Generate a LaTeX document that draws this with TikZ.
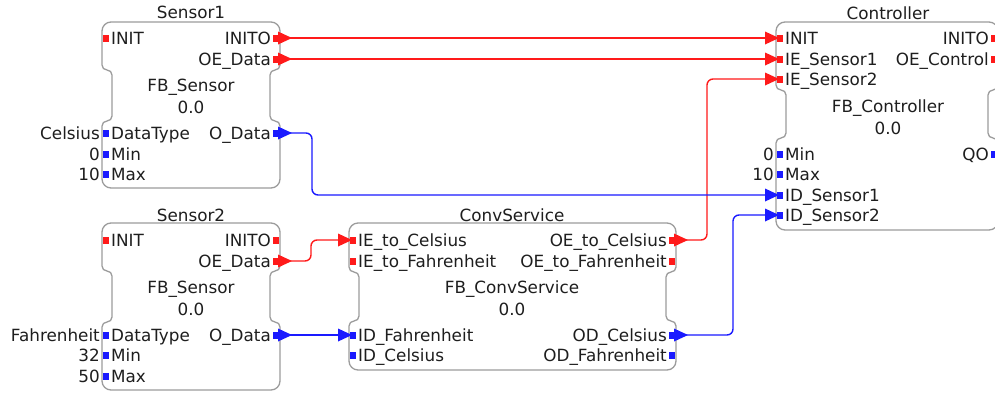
\documentclass[tikz,border=0pt]{standalone}
\usepackage{fontspec}
\setmainfont{DejaVu Sans}
\definecolor{evred}{HTML}{FF1A1A}
\definecolor{dblue}{HTML}{1A1AFF}
\definecolor{txt}{HTML}{1E1E1E}
\definecolor{frm}{HTML}{9C9C9C}
% L R T E D B
\newcommand\fbFrame[6]{%
  \draw[frame] ({(#1+#2)/2},#3) [rounded corners=9] -- (#2,#3) -- (#2,{(#3+#4)/2})
    [rounded corners=5] -- (#2,#4) -- ({#2-10},#4) -- ({#2-10},#5) -- (#2,#5) -- (#2,{(#5+#6)/2})
    [rounded corners=9] -- (#2,#6) -- (#1,#6) -- (#1,{(#5+#6)/2})
    [rounded corners=5] -- (#1,#5) -- ({#1+10},#5) -- ({#1+10},#4) -- (#1,#4) -- (#1,{(#3+#4)/2})
    [rounded corners=9] -- (#1,#3) -- cycle;}
% id x y colour text
\newcommand\fbIn[5]{%
  \coordinate (#1) at (#2,#3);
  \fill[#4] ({#2+1},{#3-3.5}) rectangle ({#2+7},{#3+3.5});
  \node[lbl,anchor=base west] (#1-t) at ({#2+9},{#3+6}) {#5};}
\newcommand\fbOut[5]{%
  \coordinate (#1) at (#2,#3);
  \fill[#4] ({#2-7},{#3-3.5}) rectangle ({#2-1},{#3+3.5});
  \node[lbl,anchor=base east] (#1-t) at ({#2-9},{#3+6}) {#5};}
% id x y text
\newcommand\fbConst[4]{%
  \node[lbl,anchor=base east] (#1) at ({#2-2},{#3+6}) {#4};}
% id x y text
\newcommand\fbText[4]{%
  \node[lbl,anchor=base] (#1) at (#2,{#3+6}) {#4};}
\newcommand\srcTip[2]{\fill[#2] ([shift={(-2,-6.5)}]#1) -- ([shift={(12,0)}]#1) -- ([shift={(-2,6.5)}]#1) -- cycle;}
\newcommand\dstTip[2]{\fill[#2] ([shift={(-11,-6.5)}]#1) -- ([shift={(3,0)}]#1) -- ([shift={(-11,6.5)}]#1) -- cycle;}
\begin{document}
\begin{tikzpicture}[x=1pt,y=-1pt,
  lbl/.style={inner sep=0pt, text=txt, font=\fontsize{16.8}{19}\selectfont},
  frame/.style={draw=frm, line width=1.3pt, fill=white},
  evline/.style={draw=evred, line width=1.4pt, rounded corners=6},
  dline/.style={draw=dblue, line width=1.4pt, rounded corners=6}]
\useasboundingbox (0,0) rectangle (995,397);
\fill[white] (0,0) rectangle (995,397);
\clip (0,0) rectangle (995,397);

% ---------------- Sensor1
\fbFrame{102}{280}{22}{70}{121}{188}
\fbText{s1-title}{191}{12}{Sensor1}
\fbText{s1-type}{191}{85}{FB\_Sensor}
\fbText{s1-ver}{191}{107}{0.0}
\fbIn{s1-init}{102}{38}{evred}{INIT}
\fbOut{s1-inito}{280}{38}{evred}{INITO}
\fbOut{s1-oed}{280}{59}{evred}{OE\_Data}
\fbIn{s1-dt}{102}{133}{dblue}{DataType}
\fbIn{s1-min}{102}{154}{dblue}{Min}
\fbIn{s1-max}{102}{174}{dblue}{Max}
\fbOut{s1-od}{280}{133}{dblue}{O\_Data}
\fbConst{s1-dtv}{102}{133}{Celsius}
\fbConst{s1-minv}{102}{154}{0}
\fbConst{s1-maxv}{102}{174}{10}

% ---------------- Sensor2
\fbFrame{102}{280}{223}{271}{322}{390}
\fbText{s2-title}{191}{215}{Sensor2}
\fbText{s2-type}{191}{287}{FB\_Sensor}
\fbText{s2-ver}{191}{309}{0.0}
\fbIn{s2-init}{102}{240}{evred}{INIT}
\fbOut{s2-inito}{280}{240}{evred}{INITO}
\fbOut{s2-oed}{280}{261}{evred}{OE\_Data}
\fbIn{s2-dt}{102}{335}{dblue}{DataType}
\fbIn{s2-min}{102}{355}{dblue}{Min}
\fbIn{s2-max}{102}{376}{dblue}{Max}
\fbOut{s2-od}{280}{335}{dblue}{O\_Data}
\fbConst{s2-dtv}{102}{335}{Fahrenheit}
\fbConst{s2-minv}{102}{355}{32}
\fbConst{s2-maxv}{102}{376}{50}

% ---------------- ConvService
\fbFrame{349}{676}{223}{272}{321}{370}
\fbText{cs-title}{512}{215}{ConvService}
\fbText{cs-type}{512}{287}{FB\_ConvService}
\fbText{cs-ver}{512}{309}{0.0}
\fbIn{cs-iec}{349}{240}{evred}{IE\_to\_Celsius}
\fbIn{cs-ief}{349}{261}{evred}{IE\_to\_Fahrenheit}
\fbOut{cs-oec}{676}{240}{evred}{OE\_to\_Celsius}
\fbOut{cs-oef}{676}{261}{evred}{OE\_to\_Fahrenheit}
\fbIn{cs-idf}{349}{335}{dblue}{ID\_Fahrenheit}
\fbIn{cs-idc}{349}{355}{dblue}{ID\_Celsius}
\fbOut{cs-odc}{676}{335}{dblue}{OD\_Celsius}
\fbOut{cs-odf}{676}{355}{dblue}{OD\_Fahrenheit}

% ---------------- Controller
\fbFrame{776}{998}{22}{90}{138}{230}
\fbText{c-title}{888}{13}{Controller}
\fbText{c-type}{888}{106}{FB\_Controller}
\fbText{c-ver}{888}{128}{0.0}
\fbIn{c-init}{776}{38}{evred}{INIT}
\fbIn{c-ies1}{776}{59}{evred}{IE\_Sensor1}
\fbIn{c-ies2}{776}{79}{evred}{IE\_Sensor2}
\fbOut{c-inito}{998}{38}{evred}{INITO}
\fbOut{c-oec}{998}{59}{evred}{OE\_Control}
\fbIn{c-min}{776}{154}{dblue}{Min}
\fbIn{c-max}{776}{174}{dblue}{Max}
\fbIn{c-ids1}{776}{195}{dblue}{ID\_Sensor1}
\fbIn{c-ids2}{776}{215}{dblue}{ID\_Sensor2}
\fbOut{c-qo}{998}{154}{dblue}{QO}
\fbConst{c-minv}{776}{154}{0}
\fbConst{c-maxv}{776}{174}{10}

% ---------------- connections
\draw[evline] (s1-inito) -- (c-init);
\draw[evline] (s1-oed) -- (c-ies1);
\draw[evline] (s2-oed) -- ++(31,0) |- (cs-iec);
\draw[evline] (cs-oec) -- ++(31,0) |- (c-ies2);
\draw[dline] (s1-od) -- ++(32,0) |- (c-ids1);
\draw[dline] (s2-od) -- (cs-idf);
\draw[dline] (cs-odc) -- ++(57,0) |- (c-ids2);

\srcTip{s1-inito}{evred} \dstTip{c-init}{evred}
\srcTip{s1-oed}{evred} \dstTip{c-ies1}{evred}
\srcTip{s2-oed}{evred} \dstTip{cs-iec}{evred}
\srcTip{cs-oec}{evred} \dstTip{c-ies2}{evred}
\srcTip{s1-od}{dblue} \dstTip{c-ids1}{dblue}
\srcTip{s2-od}{dblue} \dstTip{cs-idf}{dblue}
\srcTip{cs-odc}{dblue} \dstTip{c-ids2}{dblue}
\end{tikzpicture}
\end{document}
